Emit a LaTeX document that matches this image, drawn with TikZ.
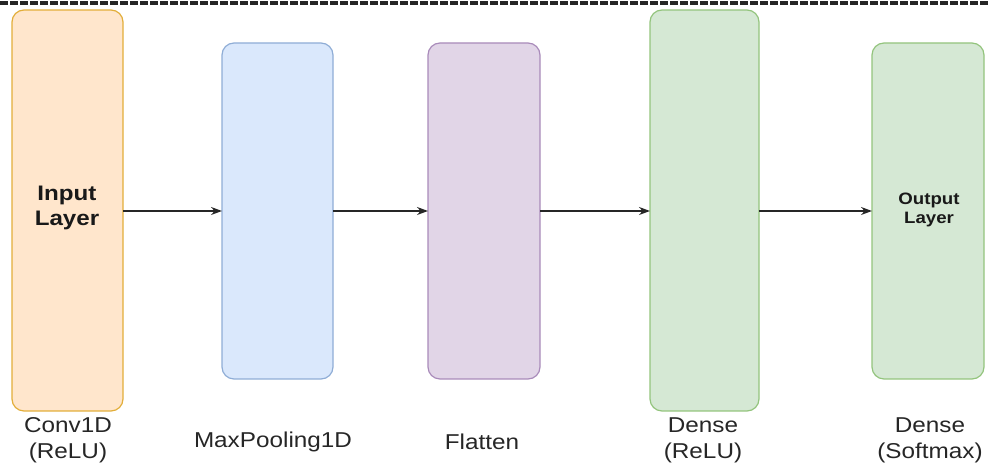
\documentclass[tikz,border=0pt]{standalone}
\usepackage{fontspec}
\setmainfont{Liberation Sans}
\usetikzlibrary{arrows.meta}
\definecolor{orfill}{HTML}{FFE6CC}\definecolor{ordraw}{HTML}{E2AE3A}
\definecolor{blfill}{HTML}{DAE8FC}\definecolor{bldraw}{HTML}{8FADD6}
\definecolor{pufill}{HTML}{E1D5E7}\definecolor{pudraw}{HTML}{A98BBA}
\definecolor{grfill}{HTML}{D5E8D4}\definecolor{grdraw}{HTML}{93C47D}
\begin{document}
\begin{tikzpicture}[x=1pt,y=1pt,
  layer/.style={rounded corners=12pt, line width=1.2pt},
  conn/.style={-{Stealth[length=11pt,width=8pt]}, line width=1.3pt, black!85},
  labtxt/.style={font=\fontsize{21.5}{26}\selectfont, align=center, text=black!85, xscale=1.13, transform shape}]
\useasboundingbox (0,0) rectangle (989,468);
\draw[line width=3.5pt, dash pattern=on 8pt off 2pt, black!85] (0,465) -- (989,465);
% boxes
\draw[layer, fill=orfill, draw=ordraw] (12,57) rectangle (123,458);
\draw[layer, fill=blfill, draw=bldraw] (222,89) rectangle (333,425);
\draw[layer, fill=pufill, draw=pudraw] (428,89) rectangle (540,425);
\draw[layer, fill=grfill, draw=grdraw] (650,57) rectangle (759,458);
\draw[layer, fill=grfill, draw=grdraw] (872,89) rectangle (984,425);
\coordinate (in) at (67,260);
\coordinate (ou) at (929,258);
\coordinate (inE) at (123,257);
\coordinate (mpW) at (222,257);
\coordinate (mpE) at (333,257);
\coordinate (flW) at (428,257);
\coordinate (flE) at (540,257);
\coordinate (deW) at (650,257);
\coordinate (deE) at (759,257);
\coordinate (ouW) at (872,257);
\node (tin) at (in) [font=\bfseries\fontsize{21}{25}\selectfont, align=center, text=black!90, xscale=1.15, transform shape] {Input\\Layer};
\node (tou) at (ou) [font=\bfseries\fontsize{16.5}{19}\selectfont, align=center, text=black!90, xscale=1.13, transform shape] {Output\\Layer};
\draw[conn] (inE) -- (mpW);
\draw[conn] (mpE) -- (flW);
\draw[conn] (flE) -- (deW);
\draw[conn] (deE) -- (ouW);
% captions
\node (c1) at (68,28) [labtxt] {Conv1D\\(ReLU)};
\node (c2) at (273,26) [labtxt] {MaxPooling1D};
\node (c3) at (482,26) [labtxt] {Flatten};
\node (c4) at (703,28) [labtxt] {Dense\\(ReLU)};
\node (c5) at (930,28) [labtxt] {Dense\\(Softmax)};
\end{tikzpicture}
\end{document}
